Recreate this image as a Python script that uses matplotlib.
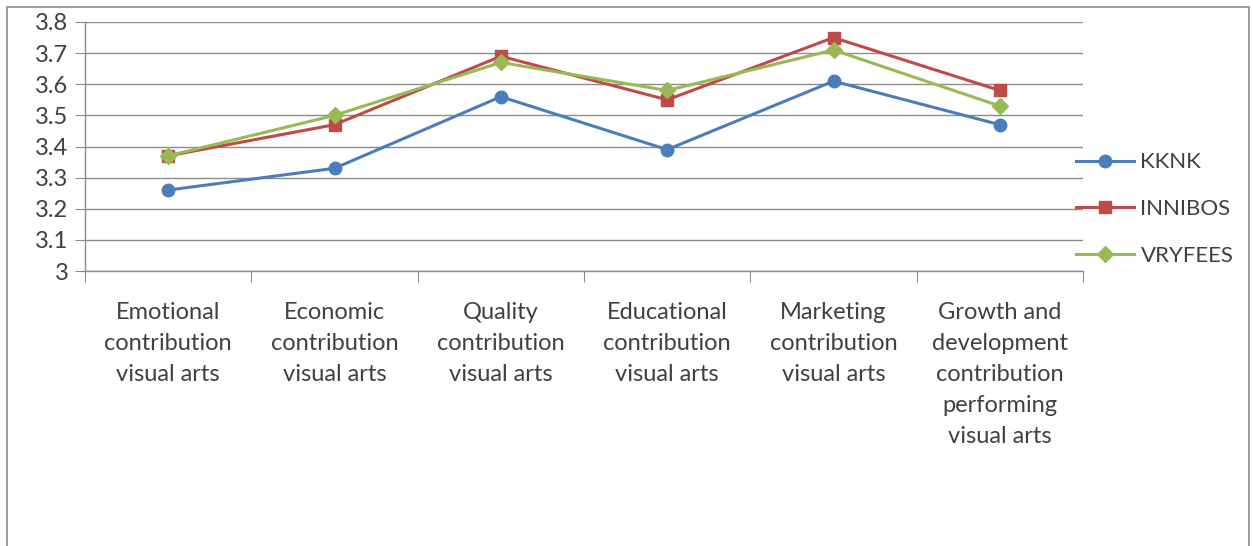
import matplotlib
matplotlib.use("Agg")
import matplotlib.pyplot as plt
from matplotlib.patches import Rectangle

categories = [
    "Emotional\ncontribution\nvisual arts",
    "Economic\ncontribution\nvisual arts",
    "Quality\ncontribution\nvisual arts",
    "Educational\ncontribution\nvisual arts",
    "Marketing\ncontribution\nvisual arts",
    "Growth and\ndevelopment\ncontribution\nperforming\nvisual arts",
]
series_names = ["KKNK", "INNIBOS", "VRYFEES"]
kknk = [3.26, 3.33, 3.56, 3.39, 3.61, 3.47]
innibos = [3.37, 3.47, 3.69, 3.55, 3.75, 3.58]
vryfees = [3.37, 3.50, 3.67, 3.58, 3.71, 3.53]
y_ticks = [3.0, 3.1, 3.2, 3.3, 3.4, 3.5, 3.6, 3.7, 3.8]
y_tick_labels = ["3", "3.1", "3.2", "3.3", "3.4", "3.5", "3.6", "3.7", "3.8"]

plt.rcParams['font.family'] = ['Lato', 'DejaVu Sans']

fig = plt.figure(figsize=(12.53, 5.46), dpi=100)
W, H = 1253, 546
ax = fig.add_axes([85 / W, 1 - 271 / H, (1083 - 85) / W, (271 - 22) / H])

# outer chart border
fig.patches.append(Rectangle((7 / W, -0.05), (1249 - 7) / W, 1 - 7 / H + 0.05,
                             transform=fig.transFigure, fill=False,
                             edgecolor='#8c8c8c', linewidth=1.2))

x = list(range(len(categories)))
styles = [
    (kknk, '#4A7EBB', 'o', 9),
    (innibos, '#BE4B48', 's', 8.5),
    (vryfees, '#98B954', 'D', 8.5),
]
for (vals, col, mk, ms), name in zip(styles, series_names):
    ax.plot(x, vals, color=col, marker=mk, markersize=ms, linewidth=2.2,
            label=name, zorder=3)

ax.set_xlim(-0.5, len(categories) - 0.5)
ax.set_ylim(3.0, 3.8)
ax.set_yticks(y_ticks)
ax.set_yticklabels(y_tick_labels, fontsize=17, color='#404040')
ax.yaxis.grid(True, color='#8c8c8c', linewidth=1.0)
ax.set_axisbelow(True)

ax.set_xticks([i + 0.5 for i in range(-1, len(categories))])
ax.set_xticklabels([])
ax.set_xticks(x, minor=True)
ax.set_xticklabels(categories, minor=True, fontsize=17, color='#404040',
                   va='top', linespacing=1.6)
ax.tick_params(axis='x', which='minor', length=0, pad=22)
ax.tick_params(axis='x', which='major', length=8, color='#8c8c8c', direction='out')
ax.tick_params(axis='y', length=7, color='#8c8c8c', direction='out', pad=5)

for s in ['top', 'right']:
    ax.spines[s].set_visible(False)
for s in ['left', 'bottom']:
    ax.spines[s].set_color('#8c8c8c')
    ax.spines[s].set_linewidth(1.0)

leg = ax.legend(loc='center left', frameon=False, fontsize=16, labelspacing=1.2,
                handlelength=2.6, handletextpad=0.3, borderaxespad=0, borderpad=0)
for t in leg.get_texts():
    t.set_color('#404040')
leg.set_bbox_to_anchor((1076 / W, 1 - 209 / H), transform=fig.transFigure)

fig.savefig("out.png", dpi=100)
